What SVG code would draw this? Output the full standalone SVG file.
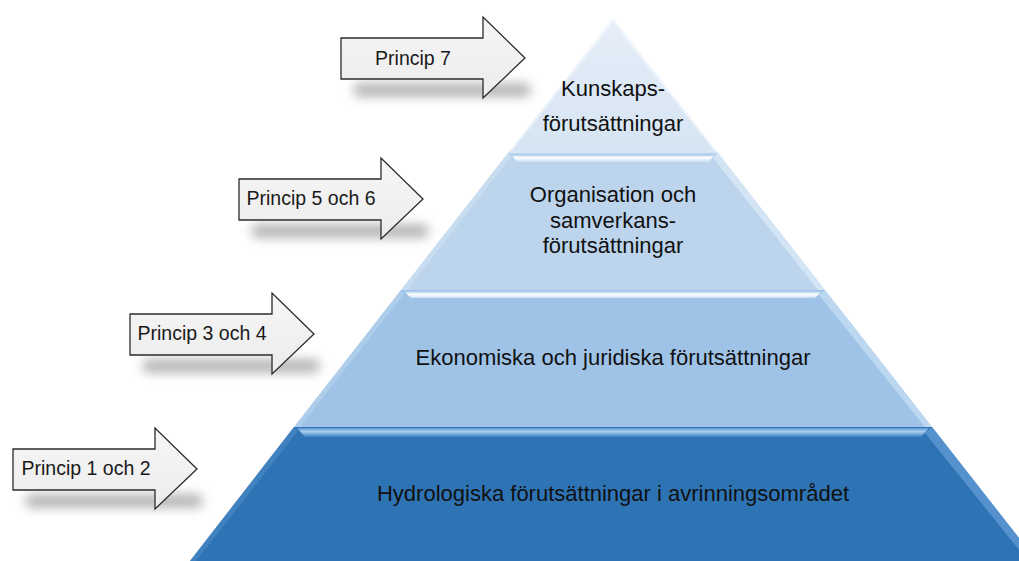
<svg xmlns="http://www.w3.org/2000/svg" width="1019" height="561" viewBox="0 0 1019 561">
<defs>
  <style>
    .lbl{font-family:"Liberation Sans",Arial,sans-serif;font-size:19.5px;fill:#1a1a1a;text-anchor:middle}
    .tier{font-family:"Liberation Sans",Arial,sans-serif;font-size:22px;fill:#111;text-anchor:middle}
    .arrow{fill:url(#arrowFill);stroke:#2b2b2b;stroke-width:1.3;stroke-linejoin:miter}
    .shadow{fill:#6e6e6e;opacity:0.5;filter:url(#blur)}
    .edge{fill:none;stroke:#ffffff;stroke-opacity:0.45;stroke-width:3}
  </style>
  <linearGradient id="arrowFill" x1="0" y1="0" x2="0" y2="1">
    <stop offset="0" stop-color="#f6f6f6"/>
    <stop offset="1" stop-color="#ececec"/>
  </linearGradient>
  <linearGradient id="bandLight" x1="0" y1="0" x2="0" y2="1">
    <stop offset="0" stop-color="#9fc2e6"/>
    <stop offset="0.45" stop-color="#ffffff"/>
    <stop offset="1" stop-color="#c9def3"/>
  </linearGradient>
  <linearGradient id="bandDark" x1="0" y1="0" x2="0" y2="1">
    <stop offset="0" stop-color="#5b97d0"/>
    <stop offset="0.4" stop-color="#a9cdee"/>
    <stop offset="1" stop-color="#3a80c0"/>
  </linearGradient>
  <linearGradient id="topTier" x1="0" y1="0" x2="0" y2="1">
    <stop offset="0" stop-color="#e6eef8"/>
    <stop offset="1" stop-color="#d6e4f3"/>
  </linearGradient>
  <filter id="blur" x="-20%" y="-150%" width="140%" height="400%">
    <feGaussianBlur stdDeviation="5.5"/>
  </filter>
  <path id="arrowShape" d="M0,21 H142 V0 L184,41 L142,81 V62 H0 Z"/>
  <rect id="arrowShadow" x="12" y="66" width="178" height="14" rx="7"/>
</defs>

<g id="pyramid">
  <g id="tier4">
    <polygon points="294,427 932,427 1037,561 190,561" fill="#2e74b5"/>
    <polygon points="297,428 929,428 921,437 305,437" fill="url(#bandDark)"/>
    <polygon points="932,427 1037,561 1028,561 925,433" fill="#5f9ad3" opacity="0.8"/>
    <polygon points="294,427 190,561 196,561 298,431" fill="#4d8cc8" opacity="0.6"/>
    <text class="tier" x="613" y="501">Hydrologiska förutsättningar i avrinningsområdet</text>
  </g>
  <g id="tier3">
    <polygon points="401,290 825,290 932,427 294,427" fill="#9fc3e6"/>
    <polygon points="404,291 822,291 815,298 411,298" fill="url(#bandLight)"/>
    <polygon points="825,290 932,427 925,427 819,295" fill="#c3dcf3" opacity="0.8"/>
    <polygon points="401,290 294,427 300,427 404,294" fill="#b7d3ee" opacity="0.6"/>
    <text class="tier" x="613" y="365">Ekonomiska och juridiska förutsättningar</text>
  </g>
  <g id="tier2">
    <polygon points="508,153 718,153 825,290 401,290" fill="#bcd4ec"/>
    <polygon points="511,154 715,154 709,162 517,162" fill="url(#bandLight)"/>
    <polygon points="718,153 825,290 818,290 713,158" fill="#d8e8f7" opacity="0.8"/>
    <polygon points="508,153 401,290 407,290 511,157" fill="#d0e2f4" opacity="0.6"/>
    <text class="tier" x="613" y="202">Organisation och</text>
    <text class="tier" x="613" y="228">samverkans-</text>
    <text class="tier" x="613" y="253">förutsättningar</text>
  </g>
  <g id="tier1">
    <polygon points="613,18 718,153 508,153" fill="url(#topTier)"/>
    <polyline class="edge" points="510,151 613,20 716,151"/>
    <text class="tier" x="613" y="96">Kunskaps-</text>
    <text class="tier" x="613" y="131">förutsättningar</text>
  </g>
</g>

<g id="arrows">
  <g id="arrow7" transform="translate(341,17)">
    <use href="#arrowShadow" class="shadow"/>
    <use href="#arrowShape" class="arrow"/>
    <text class="lbl" x="72" y="48">Princip 7</text>
  </g>
  <g id="arrow56" transform="translate(239,158)">
    <use href="#arrowShadow" class="shadow"/>
    <use href="#arrowShape" class="arrow"/>
    <text class="lbl" x="72" y="47">Princip 5 och 6</text>
  </g>
  <g id="arrow34" transform="translate(130,293)">
    <use href="#arrowShadow" class="shadow"/>
    <use href="#arrowShape" class="arrow"/>
    <text class="lbl" x="72" y="47">Princip 3 och 4</text>
  </g>
  <g id="arrow12" transform="translate(13,428)">
    <use href="#arrowShadow" class="shadow"/>
    <use href="#arrowShape" class="arrow"/>
    <text class="lbl" x="73" y="47">Princip 1 och 2</text>
  </g>
</g>
</svg>
